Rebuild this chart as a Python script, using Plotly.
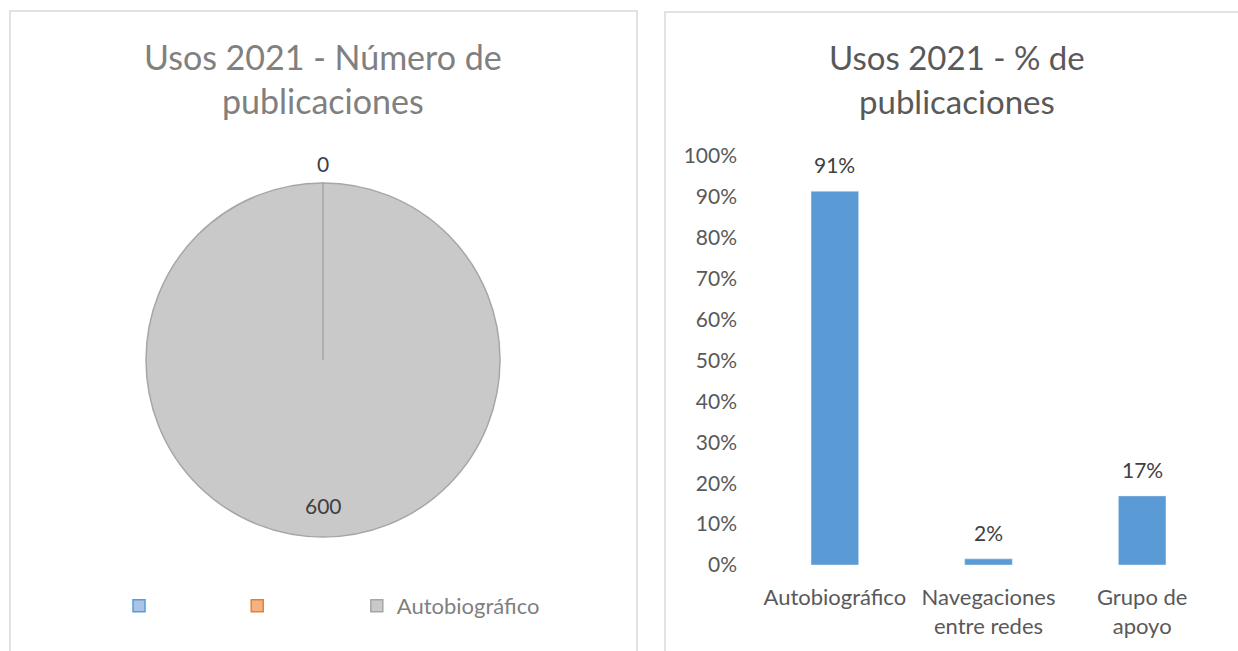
import math
import plotly.graph_objects as go

W, H = 1238, 651

# ---- data ----
NB = "\u00a0"
pie_labels = [NB * 13, NB * 13 + "\u200a", "Autobiográfico"]
pie_values = [0, 0, 600]
pie_fill = ["#a9c4e8", "#f4b183", "#c9c9c9"]
pie_edge = ["#5b9bd5", "#ed7d31", "#a6a6a6"]

bar_categories = ["Autobiográfico", "Navegaciones<br>entre redes", "Grupo de<br>apoyo"]
bar_values = [0.914, 0.015, 0.169]
y_ticks = [i / 10 for i in range(11)]
y_ticklabels = [f"{i*10}%" for i in range(11)]

left_title = ["Usos 2021 - Número de", "publicaciones"]
right_title = ["Usos 2021 - % de", "publicaciones"]

FONT = "Lato"

def px_x(p):
    return p / W

def px_y(p):
    return 1 - p / H

fig = go.Figure()

# pie geometry (pixels)
pcx, pcy, pr = 323, 360, 177
pie_dom_x = [px_x(pcx - pr), px_x(pcx + pr)]
pie_dom_y = [px_y(pcy + pr), px_y(pcy - pr)]

fig.add_trace(go.Pie(
    labels=pie_labels, values=pie_values, sort=False, direction="clockwise",
    rotation=0,
    marker=dict(colors=pie_fill, line=dict(color=pie_edge, width=1.5)),
    textinfo="none", hoverinfo="label+value",
    domain=dict(x=pie_dom_x, y=pie_dom_y),
    showlegend=True, automargin=False,
))

# pie data labels computed from slice mid-angles
total = sum(pie_values)
cum = 0
shown = set()
for lab, v in zip(pie_labels, pie_values):
    mid = (cum + v / 2) / total
    cum += v
    ang = 2 * math.pi * mid
    rr = pr + 20 if v == 0 else pr * 0.82
    lx = pcx + rr * math.sin(ang)
    ly = pcy - rr * math.cos(ang)
    key = (round(lx), round(ly))
    if key in shown:
        continue
    shown.add(key)
    fig.add_annotation(x=px_x(lx), y=px_y(ly), xref="paper", yref="paper",
                       text=str(v), showarrow=False, xanchor="center", yanchor="middle",
                       font=dict(family=FONT, size=21, color="#404040"))

# radial boundary line of the zero slices (at 12 o'clock)
fig.add_shape(type="line", xref="paper", yref="paper",
              x0=px_x(pcx), y0=px_y(pcy), x1=px_x(pcx), y1=px_y(pcy - pr),
              line=dict(color="#a6a6a6", width=1.5))

# bar chart
fig.add_trace(go.Bar(
    x=bar_categories, y=bar_values, marker=dict(color="#5b9bd5"),
    width=0.31, showlegend=False, xaxis="x", yaxis="y",
))
for c, v in zip(bar_categories, bar_values):
    fig.add_annotation(x=c, y=v, xref="x", yref="y", text=f"{round(v*100)}%",
                       showarrow=False, yanchor="bottom", yshift=12,
                       font=dict(family=FONT, size=21, color="#404040"))

fig.update_layout(
    width=W, height=H, margin=dict(l=0, r=0, t=0, b=0, autoexpand=False),
    paper_bgcolor="white", plot_bgcolor="white",
    font=dict(family=FONT, color="#595959"),
    xaxis=dict(domain=[px_x(758), px_x(1219)], showline=False, showgrid=False,
               zeroline=False, ticks="", ticklabelstandoff=17, automargin=False,
               tickfont=dict(family=FONT, size=22, color="#595959"),
               range=[-0.5, 2.5], fixedrange=True),
    yaxis=dict(domain=[px_y(565), px_y(156)], range=[0, 1], tickvals=y_ticks,
               ticktext=y_ticklabels, showline=False, showgrid=False, zeroline=False,
               ticks="", ticklabelstandoff=20, automargin=False,
               tickfont=dict(family=FONT, size=21, color="#595959"), fixedrange=True),
    legend=dict(orientation="h", x=px_x(119), y=px_y(606), xanchor="left", yanchor="middle",
                font=dict(family=FONT, size=22, color="#808080"),
                itemwidth=30, bgcolor="rgba(0,0,0,0)"),
    bargap=0.69,
)

# titles
for i, line in enumerate(left_title):
    fig.add_annotation(x=px_x(323), y=px_y(57 + 44 * i), xref="paper", yref="paper",
                       text=line, showarrow=False, xanchor="center", yanchor="middle",
                       font=dict(family=FONT, size=34, color="#808080"))
for i, line in enumerate(right_title):
    fig.add_annotation(x=px_x(957), y=px_y(57 + 44 * i), xref="paper", yref="paper",
                       text=line, showarrow=False, xanchor="center", yanchor="middle",
                       font=dict(family=FONT, size=33, color="#595959"))

# panel borders
fig.add_shape(type="rect", xref="paper", yref="paper", x0=px_x(10), x1=px_x(637),
              y0=-0.1, y1=px_y(11), line=dict(color="#d9d9d9", width=1.5), layer="below")
fig.add_shape(type="rect", xref="paper", yref="paper", x0=px_x(665), x1=1.1,
              y0=-0.1, y1=px_y(12), line=dict(color="#d9d9d9", width=1.5), layer="below")

fig.write_html("out.html", config={"displayModeBar": False},
               post_script="document.body.style.margin='0';"
                           "document.documentElement.style.overflow='hidden';")
